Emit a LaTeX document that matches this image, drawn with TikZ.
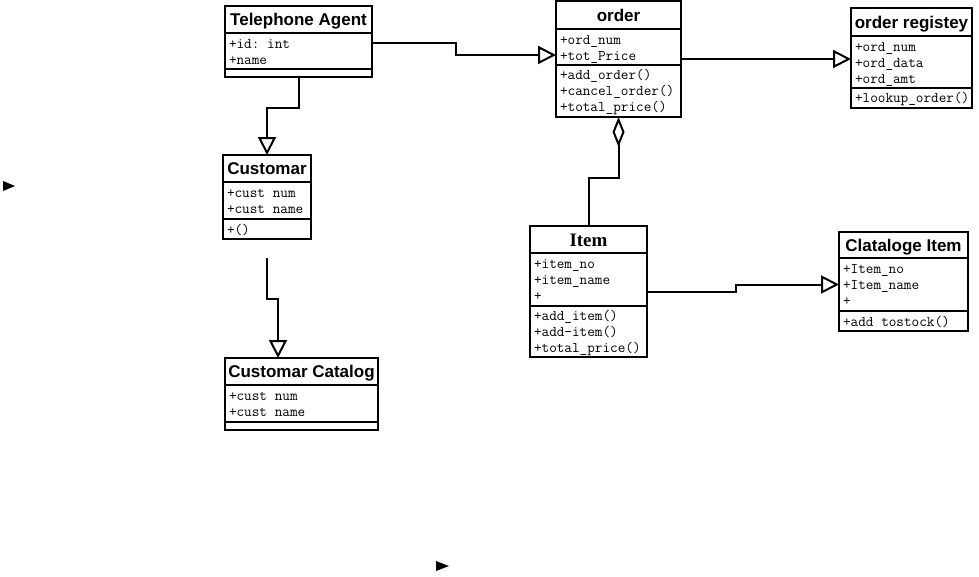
\documentclass[tikz,border=0pt]{standalone}
\usepackage{fontspec}
\setmonofont{Latin Modern Mono}
\newfontfamily\headfont{Liberation Sans}
\newfontfamily\headserif{Liberation Serif}
\usetikzlibrary{arrows.meta}
% one fixed-pitch blank in member lists
\newcommand\msp{\hspace*{0.525em}}

\begin{document}
\begin{tikzpicture}[x=1pt,y=-1pt,
  box/.style={draw, line width=1.8pt, outer sep=0pt, inner sep=0pt, anchor=north west},
  head/.style={box, text height=12pt, text depth=0pt, font=\headfont\bfseries\fontsize{17}{19}\selectfont},
  emptypart/.style={box},
  part/.style={box, font=\ttfamily\fontsize{14.8}{16}\selectfont, align=left,
    execute at begin node={\rule{0pt}{13pt}},
    execute at end node={\rule[-3pt]{0pt}{3pt}}},
  conn/.style={line width=2pt},
  gen/.style={conn, -{Triangle[length=18pt,width=18pt,fill=white]}},
  agg/.style={conn, -{Diamond[length=30pt,width=12pt,fill=white]}}
]
\useasboundingbox (0,0) rectangle (979,576);

% Telephone Agent
\node[head, minimum width=147pt, minimum height=27pt] (ta) at (225,6) {Telephone Agent};
\node[part, minimum width=147pt, text width=139pt, minimum height=36pt] (ta-a) at (ta.south west) {+id:\msp int\\+name};
\node[emptypart, minimum width=147pt, minimum height=8pt] (ta-o) at (ta-a.south west) {};

% order
\node[head, minimum width=125pt, minimum height=28pt] (or) at (556,1) {order};
\node[part, minimum width=125pt, text width=117pt, minimum height=36pt] (or-a) at (or.south west) {+ord\_num\\+tot\_Price};
\node[part, minimum width=125pt, text width=117pt, minimum height=52pt] (or-o) at (or-a.south west) {+add\_order()\\+cancel\_order()\\+total\_price()};

% order registey
\node[head, minimum width=121pt, minimum height=28pt] (rg) at (851,8) {order registey};
\node[part, minimum width=121pt, text width=113pt, minimum height=52pt] (rg-a) at (rg.south west) {+ord\_num\\+ord\_data\\+ord\_amt};
\node[part, minimum width=121pt, text width=113pt, minimum height=20pt] (rg-o) at (rg-a.south west) {+lookup\_order()};

% Customar
\node[head, minimum width=88pt, minimum height=27pt] (cu) at (223,155) {Customar};
\node[part, minimum width=88pt, text width=80pt, minimum height=37pt] (cu-a) at (cu.south west) {+cust\msp num\\+cust\msp name};
\node[part, minimum width=88pt, text width=80pt, minimum height=20pt] (cu-o) at (cu-a.south west) {+()};

% Customar Catalog
\node[head, minimum width=153pt, minimum height=27pt] (cc) at (225,358) {Customar Catalog};
\node[part, minimum width=153pt, text width=145pt, minimum height=37pt] (cc-a) at (cc.south west) {+cust\msp num\\+cust\msp name};
\node[emptypart, minimum width=153pt, minimum height=8pt] (cc-o) at (cc-a.south west) {};

% Item
\node[head, minimum width=117pt, minimum height=27pt, text height=13pt, font=\headserif\bfseries\fontsize{19}{21}\selectfont] (it) at (530,226) {Item};
\node[part, minimum width=117pt, text width=109pt, minimum height=53pt] (it-a) at (it.south west) {+item\_no\\+item\_name\\+};
\node[part, minimum width=117pt, text width=109pt, minimum height=51pt] (it-o) at (it-a.south west) {+add\_item()\\+add-item()\\+total\_price()};

% Clataloge Item
\node[head, minimum width=129pt, minimum height=26pt] (cl) at (839,232) {Clataloge Item};
\node[part, minimum width=129pt, text width=121pt, minimum height=53pt] (cl-a) at (cl.south west) {+Item\_no\\+Item\_name\\+};
\node[part, minimum width=129pt, text width=121pt, minimum height=20pt] (cl-o) at (cl-a.south west) {+add\msp tostock()};

% connectors
\draw[gen] ([yshift=8pt]ta-a.east) -- ++(84,0) |- ([yshift=-8pt]or-a.west);
\coordinate (ordOut) at ([yshift=-12pt]or-a.east);
\draw[gen] (ordOut) -- (ordOut -| rg-a.west);
\draw[gen] (ta-o.south) -- ++(0,31) -| (cu.north);
\coordinate (cuEnd) at (267,258);
\draw[gen] (cuEnd) -- ++(0,41) -| ([xshift=-23.5pt]cc.north);
\draw[agg] (it.north) -- ++(0,-48) -| (or-o.south);
\draw[gen] ([yshift=-12pt]it-a.east) -- ++(89,0) |- (cl-a.west);

% loose arrow heads
\fill (3,181) -- (15,186) -- (3,191) -- cycle;
\fill (436,561) -- (449,566) -- (436,571) -- cycle;
\end{tikzpicture}
\end{document}
